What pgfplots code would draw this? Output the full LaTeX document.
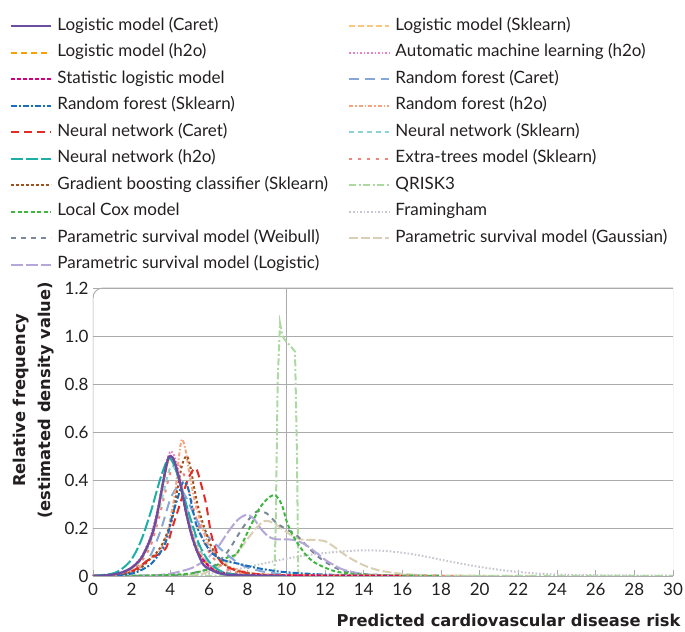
\documentclass[border=0pt]{standalone}
\usepackage{pgfplots}
\pgfplotsset{compat=1.18}
\usepackage{fontspec}
\setmainfont{Lato}
\newfontfamily\labfont{DejaVu Sans}
\definecolor{cLC}{HTML}{6B4EA2}
\definecolor{cLS}{HTML}{F9C57F}
\definecolor{cLH}{HTML}{F5A200}
\definecolor{cAM}{HTML}{F27EC0}
\definecolor{cSL}{HTML}{D4007F}
\definecolor{cRC}{HTML}{87A6D9}
\definecolor{cRS}{HTML}{1A6EBD}
\definecolor{cRH}{HTML}{F6A47E}
\definecolor{cNC}{HTML}{E42B26}
\definecolor{cNS}{HTML}{8CD3CF}
\definecolor{cNH}{HTML}{1BAFA6}
\definecolor{cET}{HTML}{F0857A}
\definecolor{cGB}{HTML}{A0521E}
\definecolor{cQR}{HTML}{ACD9A2}
\definecolor{cCX}{HTML}{3DB83D}
\definecolor{cFR}{HTML}{C6C6CF}
\definecolor{cWB}{HTML}{7A8899}
\definecolor{cGA}{HTML}{D9CFB4}
\definecolor{cPL}{HTML}{B5A8D8}
\definecolor{frame}{HTML}{ABABAB}
\definecolor{txt}{HTML}{231F20}
\tikzset{
 sLC/.style={color=cLC,line width=2.3bp,solid},
 sLS/.style={color=cLS,line width=2bp,dash pattern=on 6bp off 3bp},
 sLH/.style={color=cLH,line width=2bp,dash pattern=on 6bp off 4bp},
 sAM/.style={color=cAM,line width=2bp,dash pattern=on 1.6bp off 2bp},
 sSL/.style={color=cSL,line width=2bp,dash pattern=on 4bp off 2bp},
 sRC/.style={color=cRC,line width=2bp,dash pattern=on 10bp off 6bp},
 sRS/.style={color=cRS,line width=2bp,dash pattern=on 6bp off 2bp on 2bp off 2bp},
 sRH/.style={color=cRH,line width=2bp,dash pattern=on 4bp off 2bp on 1.5bp off 2bp},
 sNC/.style={color=cNC,line width=2bp,dash pattern=on 8bp off 5bp},
 sNS/.style={color=cNS,line width=2bp,dash pattern=on 5bp off 4bp},
 sNH/.style={color=cNH,line width=2bp,dash pattern=on 12bp off 3bp},
 sET/.style={color=cET,line width=2bp,dash pattern=on 3bp off 6bp},
 sGB/.style={color=cGB,line width=2bp,dash pattern=on 2.5bp off 2.5bp},
 sQR/.style={color=cQR,line width=2bp,dash pattern=on 7bp off 2.5bp on 2bp off 2.5bp},
 sCX/.style={color=cCX,line width=2bp,dash pattern=on 4bp off 2.5bp},
 sFR/.style={color=cFR,line width=2bp,dash pattern=on 1.6bp off 2bp},
 sWB/.style={color=cWB,line width=2bp,dash pattern=on 5bp off 5bp},
 sGA/.style={color=cGA,line width=2bp,dash pattern=on 9bp off 3bp},
 sPL/.style={color=cPL,line width=2bp,dash pattern=on 12bp off 3bp},
}
\newcommand{\fs}{\fontsize{17bp}{20bp}\selectfont}
\newcommand{\lf}{\labfont\bfseries\fontsize{16.3bp}{25bp}\selectfont}
\newcommand{\LL}[1]{\makebox[286bp][l]{#1}}
\begin{document}
\begin{tikzpicture}
\begin{axis}[
 name=ax,
 scale only axis, width=580bp, height=288bp,
 xmin=0, xmax=30, ymin=0, ymax=1.2,
 xtick={0,2,...,30},
 ytick={0,0.2,0.4,0.6,0.8,1.0,1.2},
 yticklabels={0,0.2,0.4,0.6,0.8,1.0,1.2},
 xtick pos=bottom, tick align=inside,
 major tick length=6bp,
 xtick style={frame, line width=0.8bp},
 ytick style={draw=none},
 ymajorgrids, major grid style={frame, line width=0.8bp},
 extra x ticks={10}, extra x tick labels={},
 extra x tick style={grid=major},
 axis line style={draw=none},
 tick label style={font=\fs, text=txt},
 /pgf/number format/assume math mode=true,
 xticklabel style={yshift=-4bp},
 yticklabel style={xshift=-1bp},
 xlabel={Predicted cardiovascular disease risk},
 xlabel style={font=\lf, text=txt, at={(rel axis cs:1,0)}, anchor=north east, xshift=11bp, yshift=-35bp},
 ylabel={Relative frequency\\(estimated density value)},
 ylabel style={font=\lf, text=txt, align=center, at={(ticklabel cs:0.61)}, yshift=4bp},
 legend columns=2,
 legend cell align=left,
 legend image code/.code={\draw[#1] (0bp,0bp) -- (40bp,0bp);},
 legend style={draw=none, fill=none, font=\fs, text=txt,
   at={(rel axis cs:0,1)}, anchor=north west, xshift=-86bp, yshift=274bp,
   nodes={inner sep=2bp, text height=12bp, text depth=4bp},
   row sep=6.5bp, column sep=3bp},
]
% ---- back layer
\addplot[sFR, smooth, forget plot] coordinates {(0,0)(4,0.002)(6,0.01)(7,0.02)(8,0.038)(9,0.055)(10,0.072)(11,0.086)(12,0.096)(13,0.103)(14,0.107)(15,0.105)(16,0.097)(17,0.084)(18,0.068)(19,0.052)(20,0.038)(21,0.026)(22,0.017)(23,0.01)(24,0.006)(26,0.003)(28,0.002)(30,0.001)};
\addplot[sGA, smooth, forget plot] coordinates {(0,0)(5,0.004)(6,0.02)(7,0.06)(7.5,0.1)(8,0.155)(8.5,0.205)(8.9,0.23)(9.3,0.222)(9.8,0.195)(10.3,0.168)(10.8,0.152)(11.5,0.15)(12,0.145)(12.5,0.12)(13,0.09)(13.5,0.065)(14,0.045)(14.5,0.03)(15,0.02)(16,0.009)(17,0.004)(18,0.002)(20,0.001)(22,0.0005)(23,0)};
\addplot[sQR, forget plot] coordinates {(0,0)(9.38,0)(9.45,0.2)(9.55,0.8)(9.67,1.055)(9.8,1.0)(10.0,0.975)(10.2,0.96)(10.45,0.935)(10.55,0.5)(10.62,0)(30,0)};
\addplot[sWB, smooth, forget plot] coordinates {(0,0)(4,0.002)(5,0.01)(6,0.03)(6.5,0.06)(7,0.105)(7.5,0.17)(8,0.23)(8.5,0.27)(9,0.26)(9.5,0.22)(10,0.195)(10.5,0.172)(11,0.13)(11.5,0.09)(12,0.06)(12.5,0.036)(13,0.02)(14,0.008)(16,0.002)(18,0)};
\addplot[sPL, smooth, forget plot] coordinates {(0,0)(3,0.003)(4,0.01)(5,0.03)(5.5,0.05)(6,0.08)(6.5,0.125)(7,0.185)(7.5,0.235)(7.95,0.255)(8.3,0.24)(8.7,0.195)(9.1,0.163)(9.5,0.153)(10,0.153)(10.5,0.148)(11,0.13)(11.5,0.1)(12,0.068)(12.5,0.044)(13,0.025)(14,0.008)(15,0.002)(16,0)};
\addplot[sCX, smooth, forget plot] coordinates {(0,0)(3,0.002)(5,0.01)(6,0.03)(6.5,0.05)(7,0.08)(7.45,0.095)(8.1,0.2)(8.6,0.28)(9,0.32)(9.4,0.337)(9.75,0.3)(10.05,0.22)(10.4,0.16)(10.7,0.122)(11.1,0.08)(11.6,0.05)(12.6,0.018)(14,0.006)(16,0.002)(18,0)};
% ---- left group
\addplot[sRC, smooth, forget plot] coordinates {(0,0)(1,0.003)(2,0.015)(2.5,0.04)(3,0.09)(3.5,0.19)(4,0.32)(4.4,0.37)(4.8,0.33)(5.2,0.26)(5.6,0.2)(6,0.16)(6.5,0.12)(7,0.085)(7.5,0.055)(8,0.035)(9,0.015)(10,0.007)(12,0.002)(14,0)};
\addplot[sET, smooth, forget plot] coordinates {(0,0)(1,0.004)(2,0.025)(2.5,0.06)(3,0.13)(3.5,0.27)(4,0.43)(4.4,0.47)(4.8,0.4)(5.2,0.28)(5.6,0.17)(6,0.1)(6.5,0.05)(7,0.025)(8,0.008)(10,0.002)(18,0.001)(19,0)};
\addplot[sNS, smooth, forget plot] coordinates {(0,0)(1,0.005)(2,0.03)(2.5,0.07)(3,0.15)(3.5,0.3)(3.9,0.43)(4.1,0.46)(4.4,0.42)(4.8,0.3)(5.2,0.18)(5.6,0.1)(6,0.05)(6.5,0.02)(7.5,0.005)(9,0)};
\addplot[sRH, smooth, forget plot] coordinates {(0,0)(1,0.003)(2,0.02)(2.5,0.045)(3,0.075)(3.5,0.11)(3.9,0.2)(4.25,0.35)(4.45,0.5)(4.6,0.57)(4.8,0.52)(5.0,0.42)(5.3,0.3)(5.7,0.19)(6.0,0.125)(6.4,0.08)(7,0.04)(8,0.015)(9,0.006)(10,0.002)(12,0)};
\addplot[sGB, smooth, forget plot] coordinates {(0,0)(1,0.003)(2,0.015)(2.5,0.035)(3,0.075)(3.5,0.12)(4.07,0.23)(4.33,0.345)(4.6,0.46)(4.85,0.5)(5.05,0.45)(5.25,0.36)(5.53,0.26)(6.05,0.136)(6.4,0.085)(6.75,0.05)(7.5,0.02)(8.5,0.007)(10,0.002)(12,0)};
\addplot[sNC, smooth, forget plot] coordinates {(0,0)(1,0.003)(2,0.02)(2.5,0.045)(3,0.075)(3.4,0.09)(3.8,0.12)(4.1,0.2)(4.5,0.3)(4.9,0.4)(5.3,0.45)(5.6,0.38)(5.85,0.3)(6.1,0.18)(6.35,0.11)(6.6,0.06)(7,0.035)(8,0.012)(9,0.005)(10,0.002)(12,0)};
\addplot[sRS, smooth, forget plot] coordinates {(0,0)(1,0.002)(2,0.01)(2.5,0.025)(3,0.05)(3.5,0.1)(3.8,0.15)(4.1,0.25)(4.4,0.33)(4.65,0.39)(4.9,0.37)(5.15,0.28)(5.4,0.2)(6,0.11)(6.5,0.075)(7,0.06)(7.6,0.05)(8.5,0.033)(9.7,0.018)(11,0.01)(12,0.006)(13,0.004)(14,0.002)(15,0)};
\addplot[sAM, smooth, forget plot] coordinates {(0,0)(1,0.006)(1.5,0.015)(2,0.035)(2.5,0.08)(3,0.17)(3.4,0.3)(3.7,0.43)(3.9,0.5)(4.05,0.52)(4.25,0.49)(4.55,0.39)(4.85,0.27)(5.2,0.16)(5.5,0.1)(6,0.045)(6.5,0.02)(7.5,0.006)(9,0.001)(10,0)};
\addplot[sLS, smooth, forget plot] coordinates {(0,0)(1,0.005)(1.5,0.013)(2,0.032)(2.5,0.072)(3,0.155)(3.35,0.26)(3.65,0.39)(3.9,0.48)(4.05,0.49)(4.25,0.47)(4.55,0.38)(4.85,0.26)(5.15,0.165)(5.5,0.095)(6,0.04)(6.5,0.017)(7.5,0.006)(9,0.003)(12,0.002)(15,0.001)(16,0)};
\addplot[sLH, smooth, forget plot] coordinates {(0,0)(1,0.005)(1.5,0.013)(2,0.033)(2.5,0.073)(3,0.157)(3.32,0.255)(3.62,0.385)(3.88,0.48)(4.03,0.495)(4.23,0.475)(4.52,0.385)(4.82,0.265)(5.12,0.168)(5.45,0.098)(6,0.04)(6.5,0.017)(7.5,0.006)(9,0.003)(12,0.002)(15,0.001)(16,0)};
\addplot[sSL, smooth, forget plot] coordinates {(0,0)(1,0.006)(1.5,0.014)(2,0.034)(2.5,0.074)(3,0.16)(3.3,0.25)(3.6,0.38)(3.85,0.48)(4,0.5)(4.2,0.48)(4.5,0.39)(4.8,0.27)(5.1,0.17)(5.4,0.1)(6,0.04)(6.5,0.016)(7.5,0.006)(9,0.003)(12,0.002)(15,0.001)(16,0)};
\addplot[sNH, smooth, forget plot] coordinates {(0,0)(1,0.01)(1.5,0.03)(2,0.07)(2.5,0.15)(3,0.27)(3.5,0.41)(3.9,0.49)(4.2,0.46)(4.6,0.36)(5,0.25)(5.5,0.13)(6,0.06)(6.5,0.025)(7,0.01)(8,0.002)(9,0)};
\addplot[sLC, smooth, forget plot] coordinates {(0,0)(0.5,0.002)(1,0.006)(1.5,0.015)(2,0.035)(2.5,0.075)(3,0.16)(3.3,0.25)(3.6,0.38)(3.85,0.48)(4,0.5)(4.2,0.48)(4.5,0.39)(4.8,0.27)(5.1,0.17)(5.4,0.1)(5.7,0.048)(6,0.03)(6.5,0.012)(7,0.005)(8,0.002)(10,0)};
% ---- frame
\draw[frame, line width=0.9bp] (rel axis cs:1,1) -- (rel axis cs:1,0) -- (rel axis cs:0,0);
\draw[frame, line width=0.9bp, rounded corners=10bp] (rel axis cs:0,0) -- (rel axis cs:0,1) -- (rel axis cs:1,1);
% ---- legend (row-wise, two columns)
\addlegendimage{sLC}\addlegendentry{\LL{Logistic model (Caret)}}
\addlegendimage{sLS}\addlegendentry{Logistic model (Sklearn)}
\addlegendimage{sLH}\addlegendentry{\LL{Logistic model (h2o)}}
\addlegendimage{sAM}\addlegendentry{Automatic machine learning (h2o)}
\addlegendimage{sSL}\addlegendentry{\LL{Statistic logistic model}}
\addlegendimage{sRC}\addlegendentry{Random forest (Caret)}
\addlegendimage{sRS}\addlegendentry{\LL{Random forest (Sklearn)}}
\addlegendimage{sRH}\addlegendentry{Random forest (h2o)}
\addlegendimage{sNC}\addlegendentry{\LL{Neural network (Caret)}}
\addlegendimage{sNS}\addlegendentry{Neural network (Sklearn)}
\addlegendimage{sNH}\addlegendentry{\LL{Neural network (h2o)}}
\addlegendimage{sET}\addlegendentry{Extra-trees model (Sklearn)}
\addlegendimage{sGB}\addlegendentry{\LL{Gradient boosting classifier (Sklearn)}}
\addlegendimage{sQR}\addlegendentry{QRISK3}
\addlegendimage{sCX}\addlegendentry{\LL{Local Cox model}}
\addlegendimage{sFR}\addlegendentry{Framingham}
\addlegendimage{sWB}\addlegendentry{\LL{Parametric survival model (Weibull)}}
\addlegendimage{sGA}\addlegendentry{Parametric survival model (Gaussian)}
\addlegendimage{sPL}\addlegendentry{\LL{Parametric survival model (Logistic)}}
\end{axis}
\pgfresetboundingbox
\path ([xshift=-93bp, yshift=-56bp]ax.south west) rectangle ([xshift=12bp, yshift=288bp]ax.north east);
\end{tikzpicture}
\end{document}
